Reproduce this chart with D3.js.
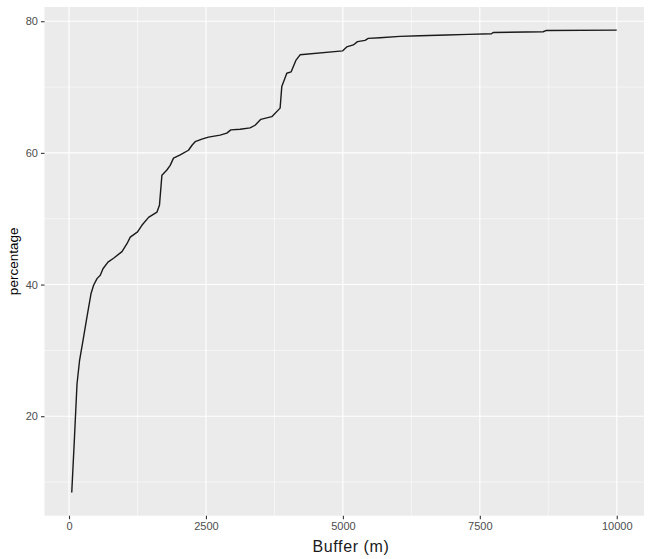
<!DOCTYPE html>
<html>
<head>
<meta charset="utf-8">
<script src="https://cdn.jsdelivr.net/npm/d3@7"></script>
<style>
  html, body { margin: 0; padding: 0; background: #ffffff; }
  svg { display: block; }
</style>
</head>
<body>
<div id="chart"></div>
<script>
// ---- data ----
const bufferM = [50, 100, 146, 193, 255, 328, 401, 449, 511, 571, 620, 711, 813, 967, 1058, 1118, 1251, 1331, 1452, 1605, 1652, 1696, 1787, 1847, 1908, 2030, 2181, 2249, 2303, 2426, 2546, 2759, 2881, 2954, 3124, 3306, 3397, 3502, 3702, 3854, 3885, 3976, 4054, 4145, 4218, 4997, 5070, 5190, 5267, 5404, 5464, 5677, 6042, 6407, 6894, 7282, 7714, 7743, 8656, 8717, 10000];
const percentage = [8.4, 16.8, 24.9, 28.5, 31.5, 35.1, 38.6, 39.9, 40.9, 41.4, 42.4, 43.4, 44.0, 45.0, 46.2, 47.2, 48.0, 49.0, 50.2, 51.0, 52.1, 56.6, 57.4, 58.1, 59.2, 59.7, 60.4, 61.2, 61.7, 62.1, 62.4, 62.7, 63.0, 63.5, 63.6, 63.8, 64.2, 65.1, 65.5, 66.8, 70.1, 72.1, 72.3, 74.1, 74.9, 75.5, 76.1, 76.4, 76.9, 77.1, 77.4, 77.5, 77.7, 77.8, 77.9, 78.0, 78.1, 78.3, 78.4, 78.6, 78.65];
const xTicks = [0, 2500, 5000, 7500, 10000];
const xMinor = [1250, 3750, 6250, 8750];
const yTicks = [20, 40, 60, 80];
const yMinor = [10, 30, 50, 70];
const xTitle = "Buffer (m)";
const yTitle = "percentage";

const W = 652, H = 559;
const margin = { left: 44.5, right: 8, top: 7, bottom: 43.3 };
const pw = W - margin.left - margin.right;
const ph = H - margin.top - margin.bottom;

const pts = bufferM.map((b, i) => ({ x: b, y: percentage[i] }));

// ggplot-style 5% expansion
const xe = d3.extent(bufferM), ye = d3.extent(percentage);
const xr = xe[1] - xe[0], yr = ye[1] - ye[0];
const x = d3.scaleLinear().domain([xe[0] - 0.05 * xr, xe[1] + 0.05 * xr]).range([0, pw]);
const y = d3.scaleLinear().domain([ye[0] - 0.05 * yr, ye[1] + 0.05 * yr]).range([ph, 0]);

const svg = d3.select("#chart").append("svg").attr("width", W).attr("height", H);
const g = svg.append("g").attr("transform", `translate(${margin.left},${margin.top})`);

g.append("rect").attr("width", pw).attr("height", ph).attr("fill", "#EBEBEB");

// minor grid
g.selectAll(".xminor").data(xMinor).enter().append("line")
  .attr("x1", d => x(d)).attr("x2", d => x(d)).attr("y1", 0).attr("y2", ph)
  .attr("stroke", "#ffffff").attr("stroke-width", 0.55);
g.selectAll(".yminor").data(yMinor).enter().append("line")
  .attr("y1", d => y(d)).attr("y2", d => y(d)).attr("x1", 0).attr("x2", pw)
  .attr("stroke", "#ffffff").attr("stroke-width", 0.55);
// major grid
g.selectAll(".xmajor").data(xTicks).enter().append("line")
  .attr("x1", d => x(d)).attr("x2", d => x(d)).attr("y1", 0).attr("y2", ph)
  .attr("stroke", "#ffffff").attr("stroke-width", 1.1);
g.selectAll(".ymajor").data(yTicks).enter().append("line")
  .attr("y1", d => y(d)).attr("y2", d => y(d)).attr("x1", 0).attr("x2", pw)
  .attr("stroke", "#ffffff").attr("stroke-width", 1.1);

// line
g.append("path").datum(pts)
  .attr("fill", "none").attr("stroke", "#1a1a1a").attr("stroke-width", 1.4)
  .attr("stroke-linejoin", "round")
  .attr("d", d3.line().x(d => x(d.x)).y(d => y(d.y)));

// axes
const font = "'Liberation Sans', Arial, sans-serif";
const xAxis = g.append("g").attr("transform", `translate(0,${ph})`)
  .call(d3.axisBottom(x).tickValues(xTicks).tickSize(3.5).tickPadding(3).tickFormat(d3.format("d")));
const yAxis = g.append("g")
  .call(d3.axisLeft(y).tickValues(yTicks).tickSize(3.5).tickPadding(3).tickFormat(d3.format("d")));
[xAxis, yAxis].forEach(a => {
  a.select(".domain").remove();
  a.selectAll(".tick line").attr("stroke", "#333333").attr("stroke-width", 1.1);
  a.selectAll(".tick text").attr("fill", "#4D4D4D").attr("font-size", "11px").attr("font-family", font);
});

svg.append("text")
  .attr("x", 351).attr("y", 552)
  .attr("text-anchor", "middle")
  .attr("font-family", font).attr("font-size", "16px").attr("letter-spacing", "0.6px").attr("fill", "#1a1a1a")
  .text(xTitle);

svg.append("text")
  .attr("transform", `translate(18,${margin.top + ph / 2}) rotate(-90)`)
  .attr("text-anchor", "middle")
  .attr("font-family", font).attr("font-size", "13.5px").attr("fill", "#000")
  .text(yTitle);
</script>
</body>
</html>
